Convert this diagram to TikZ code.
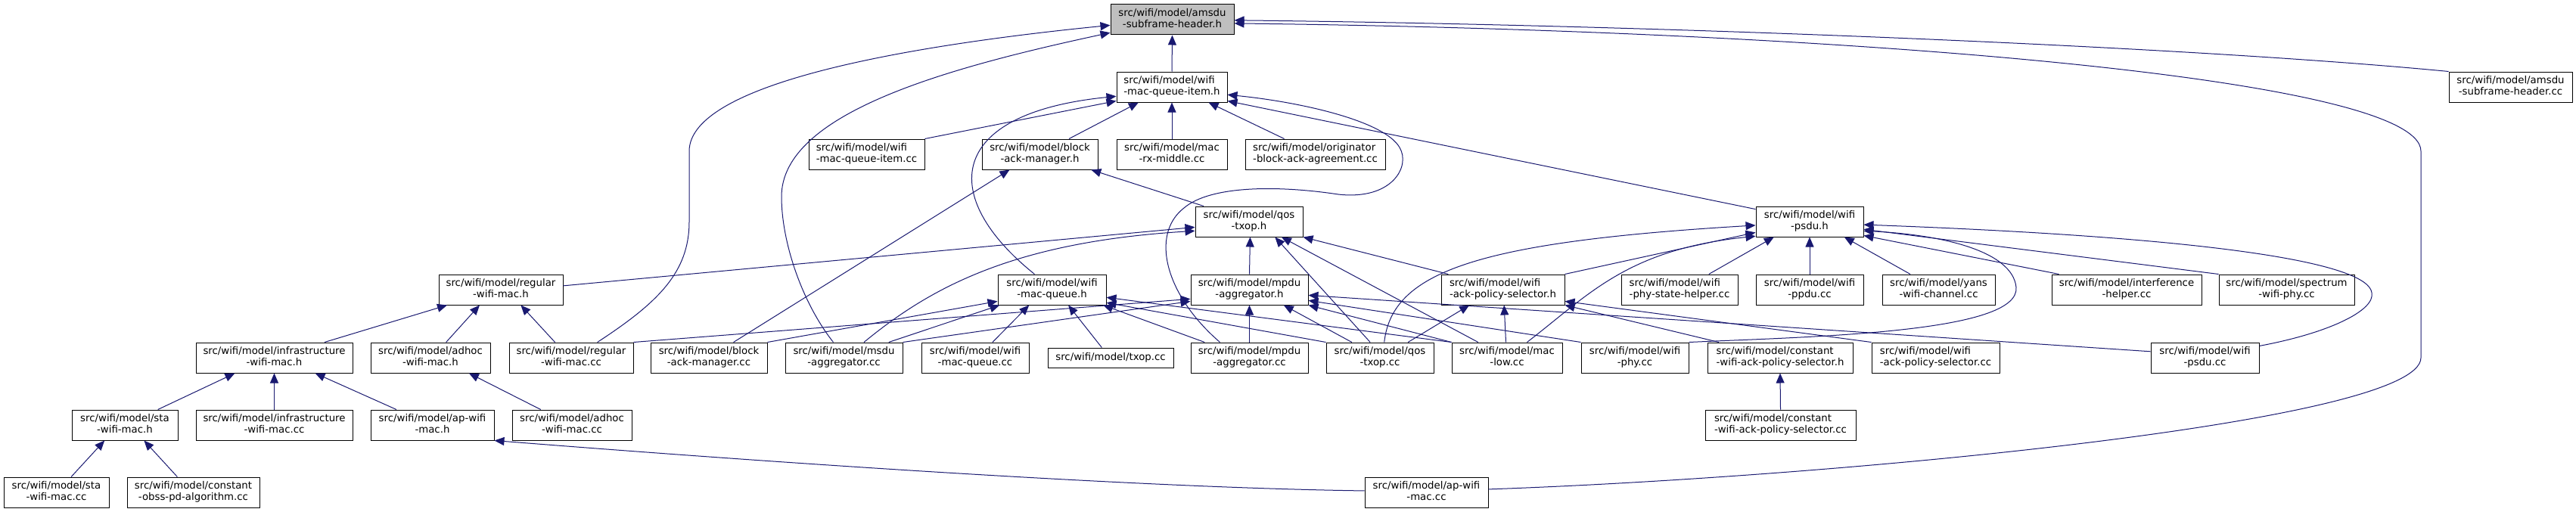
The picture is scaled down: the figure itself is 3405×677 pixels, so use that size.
\documentclass[tikz,border=0pt]{standalone}
\usepackage{fontspec}
\setmainfont{DejaVu Sans}
\usetikzlibrary{arrows.meta,calc}
\definecolor{edgec}{HTML}{191970}
\definecolor{grayfill}{HTML}{BFBFBF}
\newcommand\lab[2]{\begin{tabular}{@{}c@{}}\multicolumn{1}{@{}l@{}}{#1}\\#2\end{tabular}}
\newcommand\nd[7]{\node[box,minimum width={(#3-#2)*1pt},minimum height={(#5-#4)*1pt}] (#1) at ({(#2+#3)/2},{(#4+#5)/2}) {\lab{#6}{#7}};}
\tikzset{
  box/.style={draw=black,fill=white,line width=1pt,inner sep=0pt,align=center,
    font=\fontsize{13.3pt}{14.5pt}\selectfont},
  conn/.style={draw=edgec,line width=1pt,-{Triangle[length=13pt,width=11pt]}}
}
\begin{document}
\begin{tikzpicture}[x=1pt,y=-1pt]
\useasboundingbox (0,0) rectangle (3405,677);
% nodes
\node[box,fill=grayfill,minimum width=163pt,minimum height=40pt] (A) at (1549.5,26) {\lab{src/wifi/model/amsdu}{-subframe-header.h}};
\nd{B}{1476}{1622}{95}{135}{src/wifi/model/wifi}{-mac-queue-item.h}
\nd{AC}{3237}{3400}{95}{135}{src/wifi/model/amsdu}{-subframe-header.cc}
\nd{QIC}{1069}{1222}{184}{224}{src/wifi/model/wifi}{-mac-queue-item.cc}
\nd{BAMH}{1298}{1451}{184}{224}{src/wifi/model/block}{-ack-manager.h}
\nd{RXM}{1476}{1622}{184}{224}{src/wifi/model/mac}{-rx-middle.cc}
\nd{ORIG}{1646}{1831}{184}{224}{src/wifi/model/originator}{-block-ack-agreement.cc}
\nd{Q}{1580}{1722}{273}{313}{src/wifi/model/qos}{-txop.h}
\nd{P}{2321}{2463}{273}{313}{src/wifi/model/wifi}{-psdu.h}
\nd{R}{580}{744}{363}{403}{src/wifi/model/regular}{-wifi-mac.h}
\nd{WMQ}{1319}{1462}{363}{403}{src/wifi/model/wifi}{-mac-queue.h}
\nd{M}{1574}{1729}{363}{403}{src/wifi/model/mpdu}{-aggregator.h}
\nd{S}{1905}{2068}{363}{403}{src/wifi/model/wifi}{-ack-policy-selector.h}
\nd{PSH}{2143}{2297}{363}{403}{src/wifi/model/wifi}{-phy-state-helper.cc}
\nd{PPDU}{2321}{2463}{363}{403}{src/wifi/model/wifi}{-ppdu.cc}
\nd{YANS}{2488}{2637}{363}{403}{src/wifi/model/yans}{-wifi-channel.cc}
\nd{INTF}{2712}{2910}{363}{403}{src/wifi/model/interference}{-helper.cc}
\nd{SPEC}{2933}{3112}{363}{403}{src/wifi/model/spectrum}{-wifi-phy.cc}
\nd{I}{259}{466}{453}{493}{src/wifi/model/infrastructure}{-wifi-mac.h}
\nd{ADH}{490}{648}{453}{493}{src/wifi/model/adhoc}{-wifi-mac.h}
\nd{RWC}{673}{837}{453}{493}{src/wifi/model/regular}{-wifi-mac.cc}
\nd{BAMC}{860}{1014}{453}{493}{src/wifi/model/block}{-ack-manager.cc}
\nd{MSDU}{1038}{1193}{453}{493}{src/wifi/model/msdu}{-aggregator.cc}
\nd{WMQC}{1218}{1360}{453}{493}{src/wifi/model/wifi}{-mac-queue.cc}
\node[box,minimum width=166pt,minimum height=26pt] (TXOP) at (1468,473) {src/wifi/model/txop.cc};
\nd{MPDUC}{1574}{1729}{453}{493}{src/wifi/model/mpdu}{-aggregator.cc}
\nd{QTC}{1753}{1895}{453}{493}{src/wifi/model/qos}{-txop.cc}
\nd{MLOW}{1919}{2065}{453}{493}{src/wifi/model/mac}{-low.cc}
\nd{PHY}{2090}{2232}{453}{493}{src/wifi/model/wifi}{-phy.cc}
\nd{CSH}{2257}{2449}{453}{493}{src/wifi/model/constant}{-wifi-ack-policy-selector.h}
\nd{SCC}{2474}{2643}{453}{493}{src/wifi/model/wifi}{-ack-policy-selector.cc}
\nd{PSDUC}{2843}{2986}{453}{493}{src/wifi/model/wifi}{-psdu.cc}
\nd{STAH}{95}{235}{542}{582}{src/wifi/model/sta}{-wifi-mac.h}
\nd{INFC}{259}{466}{542}{582}{src/wifi/model/infrastructure}{-wifi-mac.cc}
\nd{APH}{490}{653}{542}{582}{src/wifi/model/ap-wifi}{-mac.h}
\nd{ADHC}{677}{835}{542}{582}{src/wifi/model/adhoc}{-wifi-mac.cc}
\nd{CSC}{2254}{2453}{542}{582}{src/wifi/model/constant}{-wifi-ack-policy-selector.cc}
\nd{STAC}{5}{144}{631}{671}{src/wifi/model/sta}{-wifi-mac.cc}
\nd{OBSS}{168}{343}{631}{671}{src/wifi/model/constant}{-obss-pd-algorithm.cc}
\nd{APC}{1804}{1967}{631}{671}{src/wifi/model/ap-wifi}{-mac.cc}
% edges into A
\draw[conn] (B.north) -- (A.south);
\draw[conn] (AC.north west) .. controls (2900,62) and (2200,33) .. ($(A.north east)!.52!(A.south east)$);
\draw[conn] ($(APC.north east)!.4!(APC.south east)$) .. controls (2400,632) and (3200,560) .. (3200,473) -- (3200,200) .. controls (3200,100) and (2400,40) .. ($(A.north east)!.62!(A.south east)$);
\draw[conn] ($(RWC.north west)!.71!(RWC.north east)$) .. controls (870,400) and (911,360) .. (911,293) -- (911,200) .. controls (911,110) and (1200,60) .. ($(A.north west)!.68!(A.south west)$);
\draw[conn] ($(MSDU.north west)!.41!(MSDU.north east)$) .. controls (1060,400) and (1033,320) .. (1033,260) .. controls (1033,150) and (1250,90) .. ($(A.north west)!.92!(A.south west)$);
% edges into B
\draw[conn] ($(WMQ.north west)!.34!(WMQ.north east)$) .. controls (1240,260) and (1250,150) .. ($(B.north west)!.8!(B.south west)$);
\draw[conn] (QIC.north east) -- ($(B.north west)!.95!(B.south west)$);
\draw[conn] ($(BAMH.north west)!.75!(BAMH.north east)$) -- ($(B.south west)!.2!(B.south east)$);
\draw[conn] (RXM.north) -- (B.south);
\draw[conn] ($(ORIG.north west)!.28!(ORIG.north east)$) -- ($(B.south west)!.83!(B.south east)$);
\draw[conn] ($(MPDUC.north west)!.25!(MPDUC.north east)$) .. controls (1540,390) and (1520,310) .. (1565,275) .. controls (1600,245) and (1690,245) .. (1769,257) .. controls (1840,265) and (1865,220) .. (1850,195) .. controls (1830,160) and (1720,135) .. ($(B.north east)!.75!(B.south east)$);
\draw[conn] ($(P.north west)!.1!(P.south west)$) -- ($(B.north east)!.95!(B.south east)$);
% edges into BAMH
\draw[conn] ($(Q.north west)!.08!(Q.north east)$) -- ($(BAMH.south west)!.94!(BAMH.south east)$);
\draw[conn] ($(BAMC.north west)!.71!(BAMC.north east)$) -- ($(BAMH.south west)!.24!(BAMH.south east)$);
% edges into Q
\draw[conn] ($(R.north east)!.375!(R.south east)$) -- ($(Q.north west)!.68!(Q.south west)$);
\draw[conn] ($(MSDU.north west)!.67!(MSDU.north east)$) .. controls (1230,380) and (1340,320) .. ($(Q.north west)!.8!(Q.south west)$);
\draw[conn] ($(M.north west)!.5!(M.north east)$) -- ($(Q.south west)!.51!(Q.south east)$);
\draw[conn] ($(QTC.north west)!.41!(QTC.north east)$) -- ($(Q.south west)!.74!(Q.south east)$);
\draw[conn] ($(MLOW.north west)!.24!(MLOW.north east)$) -- ($(Q.south west)!.8!(Q.south east)$);
\draw[conn] ($(S.north west)!.06!(S.north east)$) -- (Q.south east);
% edges into P
\draw[conn] ($(QTC.north west)!.54!(QTC.north east)$) .. controls (1840,360) and (1950,320) .. ($(P.north west)!.62!(P.south west)$);
\draw[conn] (S.north east) -- ($(P.north west)!.85!(P.south west)$);
\draw[conn] ($(MLOW.north west)!.68!(MLOW.north east)$) .. controls (2100,390) and (2150,330) .. ($(P.north west)!.97!(P.south west)$);
\draw[conn] ($(PSH.north west)!.75!(PSH.north east)$) -- ($(P.south west)!.17!(P.south east)$);
\draw[conn] (PPDU.north) -- (P.south);
\draw[conn] ($(YANS.north west)!.25!(YANS.north east)$) -- ($(P.south west)!.82!(P.south east)$);
\draw[conn] ($(PSDUC.north east)!.12!(PSDUC.south east)$) .. controls (3080,440) and (3140,410) .. (3135,387) .. controls (3130,350) and (2950,315) .. ($(P.north east)!.6!(P.south east)$);
\draw[conn] (SPEC.north west) -- ($(P.north east)!.75!(P.south east)$);
\draw[conn] ($(INTF.north west)!.05!(INTF.north east)$) -- ($(P.north east)!.95!(P.south east)$);
\draw[conn] (PHY.north east) .. controls (2400,445) and (2670,440) .. (2665,380) .. controls (2660,330) and (2560,310) .. ($(P.north east)!.8!(P.south east)$);
% edges into S
\draw[conn] ($(QTC.north west)!.76!(QTC.north east)$) -- ($(S.south west)!.23!(S.south east)$);
\draw[conn] ($(MLOW.north west)!.49!(MLOW.north east)$) -- ($(S.south west)!.51!(S.south east)$);
\draw[conn] (SCC.north west) -- ($(S.north east)!.875!(S.south east)$);
\draw[conn] ($(CSH.north west)!.08!(CSH.north east)$) -- (S.south east);
% edges into M
\draw[conn] ($(QTC.north west)!.24!(QTC.north east)$) -- ($(M.south west)!.79!(M.south east)$);
\draw[conn] (MLOW.north west) -- (M.south east);
\draw[conn] (PHY.north west) -- ($(M.north east)!.85!(M.south east)$);
\draw[conn] ($(PSDUC.north west)!.3!(PSDUC.south west)$) -- ($(M.north east)!.68!(M.south east)$);
\draw[conn] (MPDUC.north) -- (M.south);
\draw[conn] (RWC.north east) -- ($(M.north west)!.8!(M.south west)$);
\draw[conn] (MSDU.north east) -- ($(M.north west)!.875!(M.south west)$);
% edges into WMQ
\draw[conn] (BAMC.north east) -- ($(WMQ.north west)!.875!(WMQ.south west)$);
\draw[conn] ($(MSDU.north west)!.88!(MSDU.north east)$) -- ($(WMQ.south west)!.02!(WMQ.south east)$);
\draw[conn] ($(WMQC.north west)!.66!(WMQC.north east)$) -- ($(WMQ.south west)!.29!(WMQ.south east)$);
\draw[conn] ($(TXOP.north west)!.43!(TXOP.north east)$) -- ($(WMQ.south west)!.65!(WMQ.south east)$);
\draw[conn] ($(MPDUC.north west)!.12!(MPDUC.north east)$) -- ($(WMQ.south west)!.97!(WMQ.south east)$);
\draw[conn] (QTC.north west) -- ($(WMQ.north east)!.92!(WMQ.south east)$);
\draw[conn] (MLOW.north west) -- ($(WMQ.north east)!.75!(WMQ.south east)$);
% left part
\draw[conn] ($(I.north west)!.82!(I.north east)$) -- ($(R.south west)!.07!(R.south east)$);
\draw[conn] ($(ADH.north west)!.63!(ADH.north east)$) -- ($(R.south west)!.33!(R.south east)$);
\draw[conn] ($(RWC.north west)!.37!(RWC.north east)$) -- ($(R.south west)!.66!(R.south east)$);
\draw[conn] ($(STAH.north west)!.81!(STAH.north east)$) -- ($(I.south west)!.25!(I.south east)$);
\draw[conn] (INFC.north) -- (I.south);
\draw[conn] ($(APH.north west)!.21!(APH.north east)$) -- ($(I.south west)!.76!(I.south east)$);
\draw[conn] ($(STAC.north west)!.64!(STAC.north east)$) -- ($(STAH.south west)!.31!(STAH.south east)$);
\draw[conn] ($(OBSS.north west)!.38!(OBSS.north east)$) -- ($(STAH.south west)!.68!(STAH.south east)$);
\draw[conn] ($(ADHC.north west)!.24!(ADHC.north east)$) -- ($(ADH.south west)!.82!(ADH.south east)$);
\draw[conn] ($(APC.north west)!.45!(APC.south west)$) .. controls (1500,645) and (1000,610) .. (APH.south east);
\draw[conn] (CSC.north) -- (CSH.south);
\end{tikzpicture}
\end{document}
